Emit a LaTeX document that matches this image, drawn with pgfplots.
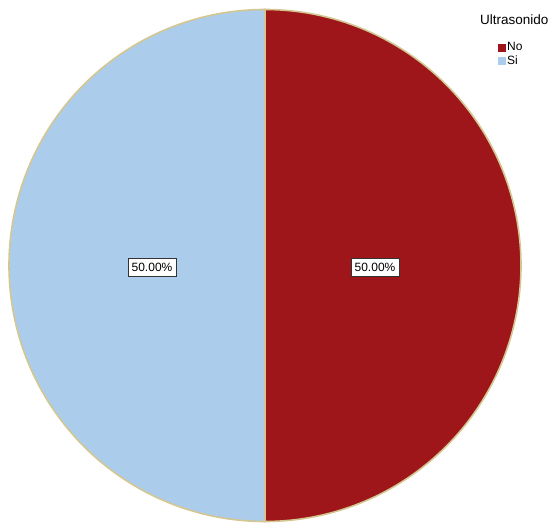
\documentclass[border=0pt]{standalone}
\usepackage{pgfplots}
\usepackage{pgfplotstable}
\pgfplotsset{compat=1.18}
\usepackage{fontspec}
\setmainfont{Liberation Sans}
\definecolor{noRed}{RGB}{158,22,26}
\definecolor{siBlue}{RGB}{171,205,235}
\definecolor{edgeTan}{RGB}{212,198,145}
\pgfplotstableread{
label value
No 50
Si 50
}\piedata
\pgfplotstablegetelem{0}{value}\of\piedata \let\vNo\pgfplotsretval
\pgfplotstablegetelem{1}{value}\of\piedata \let\vSi\pgfplotsretval
\pgfmathsetmacro\total{\vNo+\vSi}
\pgfmathsetmacro\fNo{\vNo/\total}
\pgfmathsetmacro\fSi{\vSi/\total}
\pgfmathsetmacro\aA{90}
\pgfmathsetmacro\aB{90-360*\fNo}
\pgfmathsetmacro\aC{\aB-360*\fSi}
\def\cx{265}
\def\cy{255.5}
\def\rr{256}
\begin{document}
\begin{tikzpicture}
\begin{axis}[
  width=552pt, height=521pt, scale only axis,
  xmin=0, xmax=552, ymin=0, ymax=521,
  hide axis, clip=false,
  legend style={draw=none, fill=none, at={(axis cs:498,479)}, anchor=north west,
    row sep=2pt, inner sep=0pt,
    nodes={inner xsep=1pt, inner ysep=0.5pt, font=\fontsize{12}{13}\selectfont}},
  legend cell align=left,
  legend image code/.code={\fill[#1, draw=none] (0pt,-4pt) rectangle (8pt,4pt);},
]
\path (axis cs:0,0) rectangle (axis cs:552,521);
\addplot[fill=noRed, draw=edgeTan, line width=1.6pt, domain=\aA:\aB, samples=181, variable=\t]
  ({\cx+\rr*cos(\t)}, {\cy+\rr*sin(\t)}) -- (axis cs:\cx,\cy) -- cycle;
\addlegendentry{No}
\addplot[fill=siBlue, draw=edgeTan, line width=1.6pt, domain=\aB:\aC, samples=181, variable=\t]
  ({\cx+\rr*cos(\t)}, {\cy+\rr*sin(\t)}) -- (axis cs:\cx,\cy) -- cycle;
\addlegendentry{Si}
\node[draw=black!80, line width=0.8pt, fill=white, minimum width=48pt, minimum height=18pt, inner sep=1pt, font=\fontsize{12}{13}\selectfont] at (axis cs:375,254) {50.00\%};
\node[draw=black!80, line width=0.8pt, fill=white, minimum width=48pt, minimum height=18pt, inner sep=1pt, font=\fontsize{12}{13}\selectfont] at (axis cs:152,254) {50.00\%};
\node[anchor=base west, font=\fontsize{13.5}{15}\selectfont, inner sep=0pt] at (axis cs:480,496) {Ultrasonido};
\end{axis}
\end{tikzpicture}
\end{document}
